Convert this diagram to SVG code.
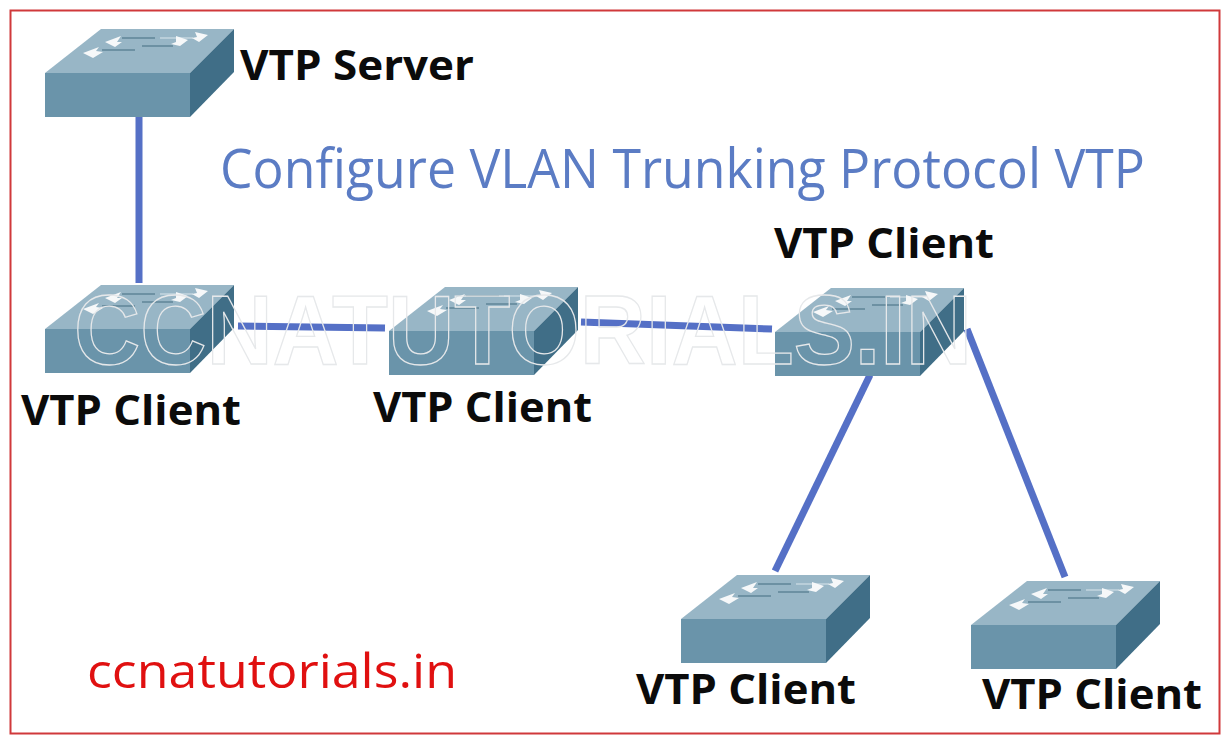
<svg xmlns="http://www.w3.org/2000/svg" width="1230" height="740" viewBox="0 0 1230 740">
<style>
.lbl{font-family:"Open Sans","Noto Sans",sans-serif;font-weight:700;font-size:42px;fill:#0b0b0b}
.link{stroke:#5570c6;fill:none;stroke-width:7}
.wm{font-family:"Liberation Sans",Arial,sans-serif;font-weight:700;font-size:98px;fill:none;stroke:#e6e8ea;stroke-width:1.3}
.line{stroke:#5f8598;stroke-width:1.3;fill:none}
.ar{fill:#f6f8f9}
</style>
<defs>
<filter id="soft" x="-5%" y="-5%" width="110%" height="110%"><feGaussianBlur stdDeviation="0.6"/></filter>
<g id="sw" filter="url(#soft)">
<polygon points="0,44 56,0 189,0 145,44" fill="#98b6c6"/>
<rect x="0" y="44" width="145" height="44" fill="#6a94aa"/>
<polygon points="145,44 189,0 189,43 145,88" fill="#3f6e87"/>
<path class="line" d="M77,9H110M97,17H128M57,21H90"/>
<path d="M115,9H148" stroke="#c4d6df" stroke-width="1.5" fill="none"/>
<polygon class="ar" points="60,13 76,7 72,13 77,13 70,18"/>
<polygon class="ar" points="163,6 150,3 152,8 147,9 154,13"/>
<polygon class="ar" points="38,24 54,18 51,22 58,23 48,29"/>
<polygon class="ar" points="143,11 131,7 131,13 126,15 135,17"/>
</g>
</defs>
<rect width="1230" height="740" fill="#fff"/>
<rect x="10.500" y="10.500" width="1209" height="723" fill="none" stroke="#d0393b" stroke-width="2"/>
<g id="connectors">
<line class="link" x1="139" y1="116" x2="139" y2="283"/>
<line class="link" x1="238" y1="326" x2="385" y2="328"/>
<line class="link" x1="581" y1="322" x2="772" y2="329"/>
<line class="link" x1="870" y1="375" x2="775" y2="571"/>
<line class="link" x1="967" y1="329" x2="1065" y2="577"/>
</g>
<g id="server"><use href="#sw" x="45" y="29"/><text class="lbl" x="240" y="80" textLength="234" lengthAdjust="spacingAndGlyphs">VTP Server</text></g>
<g id="client1"><use href="#sw" x="45" y="285"/><text class="lbl" x="21" y="425" textLength="220" lengthAdjust="spacingAndGlyphs">VTP Client</text></g>
<g id="client2"><use href="#sw" x="389" y="287"/><text class="lbl" x="373" y="422" textLength="219" lengthAdjust="spacingAndGlyphs">VTP Client</text></g>
<g id="client3"><use href="#sw" x="775" y="288"/><text class="lbl" x="774" y="258" textLength="220" lengthAdjust="spacingAndGlyphs">VTP Client</text></g>
<g id="client4"><use href="#sw" x="681" y="575"/><text class="lbl" x="636" y="704" textLength="220" lengthAdjust="spacingAndGlyphs">VTP Client</text></g>
<g id="client5"><use href="#sw" x="971" y="581"/><text class="lbl" x="982" y="709" textLength="220" lengthAdjust="spacingAndGlyphs">VTP Client</text></g>
<text x="220" y="188" font-family="'Open Sans','Noto Sans',sans-serif" font-size="54" fill="#5b7cc4" textLength="925" lengthAdjust="spacingAndGlyphs">Configure VLAN Trunking Protocol VTP</text>
<text x="87" y="688" font-family="'Open Sans','Noto Sans',sans-serif" font-size="48" fill="#e01010" textLength="370" lengthAdjust="spacingAndGlyphs">ccnatutorials.in</text>
<text class="wm" x="74" y="364" textLength="898" lengthAdjust="spacingAndGlyphs">CCNATUTORIALS.IN</text>
</svg>
